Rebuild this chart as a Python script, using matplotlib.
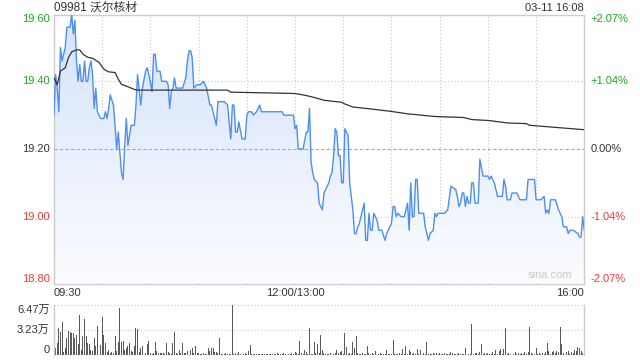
import numpy as np
import matplotlib.pyplot as plt
from matplotlib.patches import Polygon
from matplotlib.colors import LinearSegmentedColormap

plt.rcParams['font.family'] = ['Liberation Sans', 'Noto Sans CJK SC', 'DejaVu Sans']

title = '09981 沃尔核材'
stamp = '03-11 16:08'
prev_close = 19.20

# minutes since 09:30 (lunch break removed), price
price_min = [0, 1, 2, 3, 4, 5, 7, 8, 10, 11, 12, 13, 14, 15, 16, 17, 18, 19, 20, 21,
             22, 23, 24, 25, 26, 27, 29, 31, 32, 33, 34, 35, 37, 38, 39, 40, 42, 43, 44, 45,
             46, 48, 50, 51, 52, 54, 55, 57, 58, 59, 61, 62, 63, 64, 66, 67, 69, 70, 71, 72,
             73, 74, 75, 76, 80, 82, 83, 84, 85, 86, 87, 89, 91, 93, 94, 95, 97, 98, 99, 101,
             102, 106, 108, 110, 111, 112, 113, 114, 115, 117, 119, 120, 121, 123, 124, 126, 128, 129, 142, 143,
             149, 150, 151, 152, 155, 157, 158, 159, 160, 161, 162, 164, 165, 167, 168, 169, 170, 171, 172, 173,
             174, 175, 176, 177, 178, 179, 180, 181, 182, 183, 184, 186, 187, 188, 189, 190, 191, 193, 194, 195,
             196, 197, 198, 199, 201, 202, 204, 206, 207, 209, 210, 211, 212, 213, 214, 216, 218, 220, 221, 222,
             223, 224, 225, 226, 227, 230, 231, 233, 234, 236, 237, 238, 239, 241, 243, 245, 247, 250, 251, 252,
             253, 254, 255, 256, 257, 258, 259, 260, 261, 262, 264, 265, 267, 270, 271, 272, 274, 276, 279, 280,
             281, 282, 284, 285, 288, 290, 291, 294, 295, 299, 300, 303, 305, 306, 307, 308, 309, 310, 312, 314,
             316, 317, 319, 320, 321, 323, 326, 327, 328, 329, 330]
price_val = [19.30, 19.42, 19.38, 19.31, 19.50, 19.46, 19.50, 19.56, 19.56, 19.60, 19.54, 19.58, 19.46, 19.40, 19.45, 19.40, 19.40, 19.46, 19.40, 19.40,
             19.44, 19.46, 19.42, 19.32, 19.38, 19.31, 19.29, 19.29, 19.31, 19.29, 19.32, 19.36, 19.33, 19.27, 19.20, 19.25, 19.13, 19.11, 19.21, 19.29,
             19.21, 19.27, 19.27, 19.33, 19.42, 19.33, 19.38, 19.43, 19.44, 19.42, 19.37, 19.48, 19.48, 19.43, 19.43, 19.40, 19.40, 19.40, 19.39, 19.32,
             19.37, 19.38, 19.41, 19.38, 19.38, 19.41, 19.46, 19.49, 19.49, 19.47, 19.38, 19.39, 19.39, 19.40, 19.39, 19.38, 19.33, 19.33, 19.31, 19.27,
             19.34, 19.34, 19.33, 19.23, 19.33, 19.33, 19.25, 19.25, 19.28, 19.23, 19.23, 19.30, 19.31, 19.31, 19.30, 19.31, 19.33, 19.31, 19.31, 19.30,
             19.30, 19.26, 19.27, 19.20, 19.20, 19.25, 19.25, 19.32, 19.16, 19.13, 19.11, 19.10, 19.04, 19.02, 19.07, 19.08, 19.09, 19.10, 19.12, 19.13,
             19.18, 19.26, 19.25, 19.18, 19.18, 19.10, 19.10, 19.26, 19.25, 19.24, 19.10, 19.02, 18.95, 18.95, 18.97, 18.98, 19.00, 19.04, 18.93, 18.93,
             19.01, 18.96, 18.96, 19.01, 18.99, 18.96, 18.96, 18.93, 18.95, 18.97, 18.98, 19.03, 19.03, 19.00, 19.01, 19.00, 19.00, 19.04, 18.96, 19.10,
             19.00, 19.00, 19.11, 19.11, 19.01, 19.01, 18.97, 18.93, 18.95, 18.96, 19.01, 19.00, 19.01, 19.01, 19.01, 19.02, 19.09, 19.08, 19.06, 19.03,
             19.04, 19.07, 19.07, 19.03, 19.06, 19.04, 19.04, 19.10, 19.10, 19.04, 19.04, 19.17, 19.12, 19.12, 19.11, 19.12, 19.10, 19.06, 19.06, 19.11,
             19.09, 19.05, 19.05, 19.07, 19.07, 19.05, 19.05, 19.05, 19.11, 19.11, 19.05, 19.05, 19.06, 19.01, 19.02, 19.01, 19.05, 19.05, 19.05, 19.02,
             19.00, 18.97, 18.97, 18.95, 18.96, 18.96, 18.95, 18.94, 18.94, 19.00, 18.96]

# average price line
avg_min = [0, 2, 4, 7, 9, 11, 14, 16, 18, 21, 24, 28, 31, 34, 38, 40, 42, 46, 50, 52,
           108, 110, 150, 157, 163, 168, 179, 181, 186, 196, 210, 220, 237, 255, 260, 271, 282, 294, 296, 330]
avg_val = [19.41, 19.39, 19.43, 19.44, 19.47, 19.487, 19.493, 19.493, 19.48, 19.471, 19.468, 19.456, 19.436, 19.428, 19.426, 19.406, 19.391, 19.384, 19.376, 19.374,
           19.374, 19.368, 19.364, 19.358, 19.351, 19.344, 19.338, 19.333, 19.324, 19.319, 19.311, 19.304, 19.296, 19.293, 19.287, 19.284, 19.277, 19.275, 19.270, 19.257]

# volume per minute, in 万股
volume = [0.3, 0.86, 1.5, 3.45, 3.0, 4.3, 0.43, 0.86, 2.15, 3.1, 3.0, 2.9, 2.8, 2.15, 2.6, 1.4, 5.2, 0.65, 2.4, 4.65,
          2.4, 1.6, 1.4, 0.65, 0.5, 2.15, 1.2, 3.75, 1.2, 1.3, 4.9, 2.6, 1.6, 0.43, 0.7, 0.3, 0.43, 0.3, 2.4, 0.5,
          1.7, 6.1, 1.7, 1.85, 0.65, 0.86, 1.1, 1.5, 0.5, 0.43, 1.2, 3.5, 3.3, 0.4, 0.95, 1.1, 0.2, 0.2, 1.4, 1.8,
          0.2, 0.1, 0.2, 1.7, 0.5, 0.3, 0.2, 0.2, 0.3, 0.15, 1.6, 0.35, 0.2, 0.15, 1.6, 3.0, 0.3, 0.15, 0.65, 0.2,
          1.6, 0.2, 0.2, 0.5, 0.65, 0.7, 0.86, 0.2, 1.1, 0.2, 0.2, 0.15, 0.13, 0.3, 0.15, 0.1, 0.86, 0.56, 0.86, 0.86,
          0.35, 0.35, 0.2, 2.15, 0.13, 0.09, 0.1, 0.2, 0.1, 0.13, 0.1, 6.47, 0.1, 0.22, 0.1, 0.35, 0.1, 0.22, 0.1, 0.22,
          0.1, 0.5, 1.3, 0.1, 0.13, 0.09, 0.1, 0.13, 0.1, 0.09, 0.13, 0.1, 0.09, 0.13, 0.1, 0.1, 0.13, 0.09, 0.1, 0.22,
          0.1, 0.13, 0.1, 0.3, 0.1, 0.22, 0.1, 0.13, 0.22, 0.1, 0.34, 0.3, 0.13, 1.8, 0.22, 0.1, 0.65, 0.43, 0.13, 3.45,
          0.13, 0.13, 1.64, 0.2, 1.42, 0.3, 2.6, 0.65, 0.3, 0.13, 0.13, 0.1, 0.22, 0.26, 0.13, 0.22, 0.65, 0.22, 0.43, 0.56,
          0.13, 2.9, 1.0, 0.13, 0.22, 0.1, 1.7, 0.86, 2.46, 0.3, 0.13, 0.1, 0.22, 0.1, 0.13, 1.16, 0.22, 0.1, 0.22, 0.1,
          0.5, 0.1, 0.13, 0.22, 0.1, 0.13, 0.1, 0.65, 0.1, 0.13, 0.1, 1.94, 0.1, 0.13, 0.1, 0.22, 0.1, 0.78, 0.13, 1.16,
          0.1, 0.65, 0.43, 0.1, 0.22, 0.1, 0.78, 0.1, 0.65, 0.22, 0.22, 0.1, 1.64, 0.13, 0.13, 0.1, 0.22, 0.1, 0.3, 0.1,
          0.22, 0.1, 0.13, 0.3, 0.1, 0.13, 0.1, 0.43, 0.3, 0.1, 0.13, 0.1, 0.22, 0.1, 0.13, 0.1, 0.86, 0.65, 0.1, 0.13,
          4.0, 0.1, 0.3, 0.22, 0.1, 0.43, 1.38, 0.1, 0.22, 0.1, 0.3, 0.1, 0.13, 0.43, 0.1, 0.65, 0.1, 0.52, 0.78, 0.1,
          0.73, 3.53, 0.1, 0.3, 0.1, 0.34, 0.1, 0.43, 0.1, 0.22, 0.1, 0.3, 0.1, 0.43, 0.1, 0.34, 3.66, 0.3, 0.1, 0.13,
          0.86, 0.1, 0.3, 0.1, 0.3, 0.1, 0.43, 1.6, 0.52, 0.1, 0.43, 0.52, 0.3, 0.52, 0.43, 3.66, 1.42, 0.22, 0.1, 0.43,
          0.52, 0.1, 0.43, 0.3, 0.65, 0.52, 1.08, 0.86, 0.52, 0.3, 0.22]

pct_levels = [2.07, 1.04, 0.0, -1.04, -2.07]
price_labels = ['19.60', '19.40', '19.20', '19.00', '18.80']
pct_labels = ['+2.07%', '+1.04%', '0.00%', '-1.04%', '-2.07%']
time_ticks = [0, 150, 330]
time_labels = ['09:30', '12:00/13:00', '16:00']
vol_max = 6.47
vol_labels = ['6.47万', '3.23万', '0']

green = '#1fa51f'
red = '#f03a3a'
dark = '#333333'
grid = '#c9c9c9'

levels = [prev_close * (1 + p / 100) for p in pct_levels]
lo, hi = levels[-1], levels[0]

fig = plt.figure(figsize=(6.4, 3.6), dpi=100)
ax = fig.add_axes([54 / 640, 1 - 283.5 / 360, 530.3 / 640, 269 / 360])
axv = fig.add_axes([54 / 640, 1 - 355 / 360, 530.3 / 640, 50 / 360])

ax.set_xlim(0, 330)
ax.set_ylim(lo, hi)

# grid
for m in range(30, 330, 30):
    ax.axvline(m, color=grid, lw=0.8, ls=(0, (1, 2)), zorder=0)
for lv, p in zip(levels[1:-1], pct_levels[1:-1]):
    if p == 0:
        ax.axhline(lv, color='#a8a8a8', lw=0.8, ls=(0, (3, 2)), zorder=3)
    else:
        ax.axhline(lv, color=grid, lw=0.8, ls=(0, (1, 2)), zorder=0)

# gradient fill under price
pts = [(price_min[0], lo)] + list(zip(price_min, price_val)) + [(price_min[-1], lo)]
poly = Polygon(pts, closed=True, facecolor='none', edgecolor='none')
ax.add_patch(poly)
cmap = LinearSegmentedColormap.from_list('fade', ['#fbfcff', '#d5e3fa'])
grad = np.linspace(0, 1, 256).reshape(-1, 1)
im = ax.imshow(grad, extent=[0, 330, lo, hi], origin='lower', aspect='auto', cmap=cmap, zorder=1)
im.set_clip_path(poly)

ax.plot(price_min, price_val, color='#4d8ff0', lw=1.0, zorder=4)
ax.plot(avg_min, avg_val, color=dark, lw=0.9, zorder=5)

ax.set_xticks([])
ax.set_yticks([])
for s in ax.spines.values():
    s.set_color('#cccccc')
    s.set_linewidth(1)

# price / percent labels
ytr = ax.get_yaxis_transform()
for i, (lv, p) in enumerate(zip(levels, pct_levels)):
    c = green if p > 0 else (red if p < 0 else dark)
    va = 'top' if i == 0 else ('bottom' if i == len(levels) - 1 else 'center')
    ax.text(-0.008, lv, price_labels[i], color=c, ha='right', va=va, fontsize=8, transform=ytr)
    ax.text(1.011, lv, pct_labels[i], color=c, ha='left', va=va, fontsize=8, transform=ytr)

# time labels
xtr = ax.get_xaxis_transform()
for t, lab in zip(time_ticks, time_labels):
    ha = 'left' if t == 0 else ('right' if t == 330 else 'center')
    ax.text(t, -0.018, lab, ha=ha, va='top', fontsize=8, color=dark, transform=xtr)

ax.text(0.978, 0.012, 'sina.com', ha='right', va='bottom', fontsize=8, color='#c8c8c8',
        transform=ax.transAxes, zorder=6)

fig.text(54 / 640, 1 - 8 / 360, title, ha='left', va='center', fontsize=8.5, color=dark)
fig.text(584 / 640, 1 - 8 / 360, stamp, ha='right', va='center', fontsize=8, color=dark)

# volume panel
axv.set_xlim(0, 330)
axv.set_ylim(0, vol_max)
axv.bar(range(len(volume)), volume, width=0.6, color='#5a5a5a', zorder=2)
for lv in [vol_max / 2, vol_max]:
    axv.axhline(lv, color=grid, lw=0.8, ls=(0, (1, 2)), zorder=0, clip_on=False)
axv.set_xticks([])
axv.set_yticks([])
for k in ['top', 'bottom']:
    axv.spines[k].set_visible(False)
for k in ['left', 'right']:
    axv.spines[k].set_color('#cccccc')
    axv.spines[k].set_linewidth(1)
vtr = axv.get_yaxis_transform()
for lv, lab, va in zip([vol_max, vol_max / 2, 0], vol_labels, ['top', 'center', 'bottom']):
    axv.text(-0.008, lv, lab, ha='right', va=va, fontsize=8, color=dark, transform=vtr)

fig.savefig('out.png', dpi=100)
